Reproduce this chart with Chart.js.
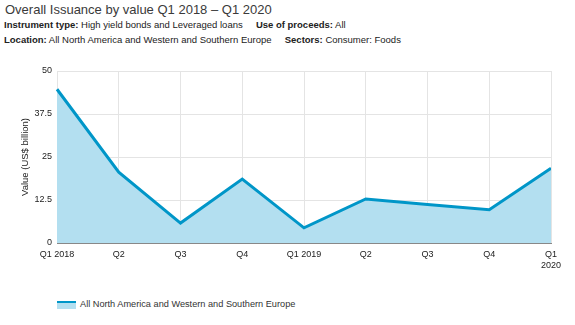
<!DOCTYPE html>
<html>
<head>
<meta charset="utf-8">
<script src="https://cdn.jsdelivr.net/npm/chart.js@4"></script>
<style>
  body { margin: 0; width: 575px; height: 325px; background: #fff; font-family: "Liberation Sans", Arial, sans-serif; color: #333; position: relative; overflow: hidden; }
  #titulo { position: absolute; left: 5px; top: 2px; font-size: 13px; color: #3a3a3a; }
  .sub { position: absolute; left: 4px; font-size: 9.5px; color: #222; white-space: nowrap; }
  .sub b { font-weight: bold; }
  #wrap { position: absolute; left: 0; top: 55px; width: 575px; height: 225px; }
  #legenda { position: absolute; left: 57px; top: 299px; font-size: 9.2px; color: #333; white-space: nowrap; }
  #legenda span.box { display: inline-block; width: 19px; height: 6px; background: #b3dff0; border-top: 2px solid #0096c8; vertical-align: middle; margin-right: 4px; }
</style>
</head>
<body>
<div id="titulo">Overall Issuance by value Q1 2018 – Q1 2020</div>
<div class="sub" style="top:19px"><b>Instrument type:</b> High yield bonds and Leveraged loans &nbsp;&nbsp;&nbsp; <b>Use of proceeds:</b> All</div>
<div class="sub" style="top:34px"><b>Location:</b> All North America and Western and Southern Europe &nbsp;&nbsp;&nbsp; <b>Sectors:</b> Consumer: Foods</div>
<div id="wrap"><canvas id="grafico"></canvas></div>
<div id="legenda"><span class="box"></span>All North America and Western and Southern Europe</div>

<script>
// dados
const trimestres = ['Q1 2018', 'Q2', 'Q3', 'Q4', 'Q1 2019', 'Q2', 'Q3', 'Q4', ['Q1', '2020']];
const emissao = [44.7, 20.6, 5.8, 18.6, 4.4, 12.8, 11.2, 9.7, 21.7];
const ticksY = [0, 12.5, 25, 37.5, 50];
const nomeSerie = 'All North America and Western and Southern Europe';

const fonte = { family: '"Liberation Sans", Arial, sans-serif', size: 9 };
const fonteTitulo = { family: '"Liberation Sans", Arial, sans-serif', size: 9.5 };

const ctx = document.getElementById('grafico').getContext('2d');
new Chart(ctx, {
    type: 'line',
    data: {
        labels: trimestres,
        datasets: [{
            label: nomeSerie,
            data: emissao,
            borderColor: '#0096c8',
            backgroundColor: '#b3dff0',
            borderWidth: 3,
            fill: 'origin',
            pointRadius: 0,
            tension: 0
        }]
    },
    options: {
        responsive: true,
        maintainAspectRatio: false,
        animation: false,
        layout: { padding: { top: 16, right: 24, left: 0, bottom: 0 } },
        plugins: { legend: { display: false }, tooltip: { enabled: false } },
        scales: {
            x: {
                offset: false,
                grid: { color: '#e4e4e4', drawTicks: false },
                border: { color: '#888', width: 1 },
                ticks: { color: '#222', font: fonte, padding: 6, maxRotation: 0, autoSkip: false },
                afterFit: s => { s.height = 37; }
            },
            y: {
                min: 0,
                max: 50,
                afterBuildTicks: s => { s.ticks = ticksY.map(v => ({ value: v })); },
                grid: { color: '#e4e4e4', drawTicks: false },
                border: { display: false },
                ticks: { color: '#222', font: fonte, padding: 5 },
                title: { display: true, text: 'Value (US$ billion)', color: '#222', font: fonteTitulo, padding: { top: 20, bottom: 0 } },
                afterFit: s => { s.width = 57; }
            }
        }
    },
    plugins: [{
        id: 'bordaDireita',
        afterDatasetsDraw(chart) {
            const a = chart.chartArea, c = chart.ctx;
            c.save();
            c.strokeStyle = '#e4e4e4';
            c.lineWidth = 1;
            c.beginPath();
            c.moveTo(a.right + 0.5, a.top);
            c.lineTo(a.right + 0.5, a.bottom);
            c.stroke();
            c.restore();
        }
    }]
});
</script>
</body>
</html>
